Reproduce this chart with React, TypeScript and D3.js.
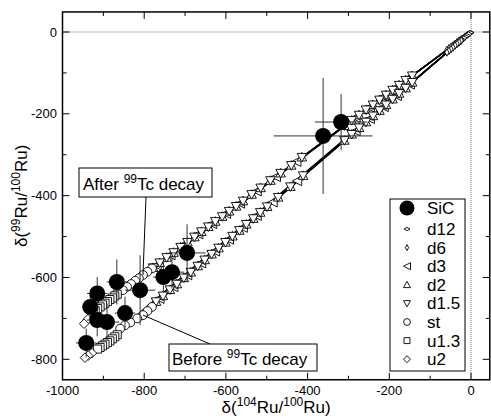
import React from "react";
import * as d3 from "d3";

// axis ticks
const xTicks = [-1000, -800, -600, -400, -200, 0];
const xMinor = [-900, -700, -500, -300, -100];
const yTicks = [-800, -600, -400, -200, 0];
const yMinor = [-700, -500, -300, -100];

// SiC grains
const sicX = [-362, -318, -695, -732, -753, -810, -867, -915, -932, -847, -891, -915, -942];
const sicY = [-254, -220, -540, -587, -599, -631, -611, -639, -672, -687, -709, -704, -760];
const sicXErr = [121, 64, 45, 30, 25, 37, 25, 25, 20, 25, 30, 25, 25];
const sicYErr = [142, 68, 70, 40, 35, 85, 55, 40, 30, 40, 45, 40, 35];

// models: after 99Tc decay (upper branch) / before (lower branch)
const d12After = [[-2, -1], [-6, -4], [-10, -7], [-14, -10], [-18, -13], [-22, -16], [-26, -19], [-30, -22], [-34, -25], [-38, -28]];
const d12Before = [[-2, -2], [-6, -5], [-10, -9], [-14, -12], [-18, -15], [-22, -19], [-26, -22], [-30, -26], [-34, -29], [-38, -33]];
const d6After = [[-24, -18], [-29, -21], [-34, -25], [-39, -29], [-44, -33], [-49, -36], [-54, -40], [-59, -44]];
const d6Before = [[-24, -21], [-29, -25], [-34, -29], [-39, -33], [-44, -38], [-49, -42], [-54, -46], [-59, -50]];
const d3After = [[-150, -111], [-182, -135], [-214, -158], [-248, -184], [-283, -209], [-428, -317], [-478, -354], [-525, -389], [-566, -419], [-600, -444], [-634, -469], [-668, -494], [-702, -519], [-736, -545], [-770, -570]];
const d3Before = [[-150, -128], [-182, -156], [-214, -183], [-248, -212], [-283, -242], [-426, -364], [-486, -416], [-525, -449], [-559, -478], [-593, -507], [-627, -536], [-661, -565], [-695, -594], [-729, -623], [-763, -652]];
// d2 and d1.5 markers sit on the same steps
const triAfter = [[-144, -107], [-160, -118], [-176, -130], [-192, -142], [-208, -154], [-224, -166], [-240, -178], [-257, -190], [-274, -203], [-292, -216], [-310, -229], [-414, -306], [-440, -326], [-466, -345], [-491, -363], [-515, -381], [-537, -397], [-558, -413], [-575, -426], [-592, -438], [-609, -451], [-626, -463], [-643, -476], [-660, -488], [-677, -501], [-694, -514], [-711, -526], [-728, -539], [-745, -551], [-762, -564], [-778, -576]];
const triBefore = [[-144, -123], [-160, -137], [-176, -150], [-192, -164], [-208, -178], [-224, -192], [-240, -205], [-257, -220], [-274, -234], [-292, -250], [-310, -265], [-411, -351], [-442, -378], [-472, -404], [-499, -427], [-516, -441], [-533, -456], [-550, -470], [-567, -485], [-584, -499], [-601, -514], [-618, -528], [-635, -543], [-652, -557], [-669, -572], [-686, -587], [-703, -601], [-720, -616], [-737, -630], [-754, -645], [-771, -659]];
const stAfter = [[-781, -578], [-792, -586], [-803, -594], [-813, -602], [-822, -608], [-832, -616], [-842, -623], [-852, -631]];
const stBefore = [[-781, -672], [-792, -682], [-803, -692], [-817, -700], [-834, -710], [-847, -717], [-859, -725]];
const u13After = [[-866, -641], [-872, -645], [-878, -650], [-884, -654], [-890, -659], [-896, -663], [-902, -667], [-908, -672], [-914, -676], [-920, -681]];
const u13Before = [[-866, -740], [-872, -745], [-878, -750], [-884, -755], [-890, -759], [-896, -763], [-902, -767], [-908, -771], [-914, -775]];
const u2After = [[-928, -692], [-938, -702], [-947, -713]];
const u2Before = [[-928, -785], [-937, -791], [-945, -796]];

const legendNames = ["SiC", "d12", "d6", "d3", "d2", "d1.5", "st", "u1.3", "u2"];

const models = [
  { name: "d12", shape: "hdiamond", after: d12After, before: d12Before },
  { name: "d6", shape: "vdiamond", after: d6After, before: d6Before },
  { name: "d3", shape: "left", after: d3After, before: d3Before },
  { name: "d2", shape: "up", after: triAfter, before: triBefore },
  { name: "d1.5", shape: "down", after: triAfter, before: triBefore },
  { name: "st", shape: "circle", after: stAfter, before: stBefore },
  { name: "u1.3", shape: "square", after: u13After, before: u13Before },
  { name: "u2", shape: "diamond", after: u2After, before: u2Before },
];

function markerPath(shape: string, s: number) {
  const h = s / 2;
  switch (shape) {
    case "hdiamond": return `M${-h},0L0,${-h * 0.55}L${h},0L0,${h * 0.55}Z`;
    case "vdiamond": return `M0,${-h}L${h * 0.55},0L0,${h}L${-h * 0.55},0Z`;
    case "left": return `M${-h},0L${h},${-h}L${h},${h}Z`;
    case "up": return `M0,${-h}L${h},${h * 0.8}L${-h},${h * 0.8}Z`;
    case "down": return `M0,${h}L${h},${-h * 0.8}L${-h},${-h * 0.8}Z`;
    case "square": return `M${-h * 0.85},${-h * 0.85}h${s * 0.85}v${s * 0.85}h${-s * 0.85}Z`;
    case "diamond": return `M0,${-h}L${h},0L0,${h}L${-h},0Z`;
    default: return d3.symbol(d3.symbolCircle, s * s * 0.75)() || "";
  }
}

function plotSize(shape: string) {
  if (shape === "hdiamond" || shape === "vdiamond") return 7.5;
  if (shape === "circle") return 9;
  return 9.5;
}

const W = 491;
const H = 416;
const x = d3.scaleLinear().domain([-1000, 0]).range([62.5, 471]);
const y = d3.scaleLinear().domain([-800, 0]).range([359.3, 32]);
const left = x(-1000), right = x(46), top = y(49), bottom = y(-850);

const font = "Arial, 'Liberation Sans', sans-serif";

export default function App() {
  const line = d3.line<number[]>().x((d) => x(d[0])).y((d) => y(d[1]));
  const legendShapes: Record<string, string> = {};
  models.forEach((m) => (legendShapes[m.name] = m.shape));

  return (
    <svg width={W} height={H} style={{ position: "absolute", left: 0, top: 0, background: "#fff" }} fontFamily={font}>
      {/* reference lines */}
      <line x1={left} x2={right} y1={y(0)} y2={y(0)} stroke="#777" strokeDasharray="1,1" />
      <line x1={x(0)} x2={x(0)} y1={top} y2={bottom} stroke="#777" strokeDasharray="1,1" />

      {/* model curves */}
      {models.map((m) => (
        <g key={m.name}>
          {[m.after, m.before].map((pts, i) => (
            <path key={i} d={line([[0, 0], ...pts]) || ""} fill="none" stroke="#000" strokeWidth={1.3} />
          ))}
        </g>
      ))}
      {models.map((m) => (
        <g key={m.name + "m"}>
          {[...m.after, ...m.before].map((p, i) => (
            <path key={i} d={markerPath(m.shape, plotSize(m.shape))}
              transform={`translate(${x(p[0])},${y(p[1])})`} fill="#fff" stroke="#000" strokeWidth={0.9} />
          ))}
        </g>
      ))}

      {/* SiC data with error bars */}
      {sicX.map((v, i) => (
        <g key={"e" + i} stroke="#333" strokeWidth={1}>
          <line x1={x(v - sicXErr[i])} x2={x(v + sicXErr[i])} y1={y(sicY[i])} y2={y(sicY[i])} />
          <line x1={x(v)} x2={x(v)} y1={y(sicY[i] - sicYErr[i])} y2={y(sicY[i] + sicYErr[i])} />
        </g>
      ))}
      {sicX.map((v, i) => (
        <circle key={"c" + i} cx={x(v)} cy={y(sicY[i])} r={8} fill="#000" />
      ))}

      {/* frame and ticks */}
      <rect x={left} y={top} width={right - left} height={bottom - top} fill="none" stroke="#000" strokeWidth={1.5} />
      {xTicks.concat(xMinor).map((t) => {
        const len = xTicks.includes(t) ? 7 : 4;
        return (
          <g key={"xt" + t} stroke="#000" strokeWidth={1}>
            <line x1={x(t)} x2={x(t)} y1={bottom} y2={bottom - len} />
            <line x1={x(t)} x2={x(t)} y1={top} y2={top + len} />
          </g>
        );
      })}
      {yTicks.concat(yMinor).map((t) => {
        const len = yTicks.includes(t) ? 7 : 4;
        return (
          <g key={"yt" + t} stroke="#000" strokeWidth={1}>
            <line x1={left} x2={left + len} y1={y(t)} y2={y(t)} />
            <line x1={right} x2={right - len} y1={y(t)} y2={y(t)} />
          </g>
        );
      })}
      {xTicks.map((t) => (
        <text key={"xl" + t} x={x(t)} y={395} textAnchor="middle" fontSize={13}>{t}</text>
      ))}
      {yTicks.map((t) => (
        <text key={"yl" + t} x={57} y={y(t) + 4.5} textAnchor="end" fontSize={13}>{t}</text>
      ))}

      {/* axis titles */}
      <text x={(left + right) / 2} y={413} textAnchor="middle" fontSize={17}>
        δ(<tspan fontSize={12} dy={-7}>104</tspan><tspan dy={7}>Ru/</tspan><tspan fontSize={12} dy={-7}>100</tspan><tspan dy={7}>Ru)</tspan>
      </text>
      <text transform={`translate(27,${(top + bottom) / 2}) rotate(-90)`} textAnchor="middle" fontSize={17}>
        δ(<tspan fontSize={12} dy={-7}>99</tspan><tspan dy={7}>Ru/</tspan><tspan fontSize={12} dy={-7}>100</tspan><tspan dy={7}>Ru)</tspan>
      </text>

      {/* annotations */}
      <line x1={146} y1={197} x2={x(-803)} y2={y(-594)} stroke="#000" strokeWidth={1} />
      <rect x={79} y={168} width={133} height={29} fill="#fff" stroke="#000" strokeWidth={1} />
      <text x={83} y={190} fontSize={17}>
        After <tspan fontSize={12} dy={-7}>99</tspan><tspan dy={7}>Tc decay</tspan>
      </text>
      <line x1={x(-803)} y1={y(-692)} x2={210} y2={344} stroke="#000" strokeWidth={1} />
      <rect x={169} y={344} width={148} height={27} fill="#fff" stroke="#000" strokeWidth={1} />
      <text x={172} y={365} fontSize={17}>
        Before <tspan fontSize={12} dy={-7}>99</tspan><tspan dy={7}>Tc decay</tspan>
      </text>

      {/* legend */}
      <rect x={390} y={199} width={75} height={172} fill="#fff" stroke="#000" strokeWidth={1} />
      {legendNames.map((n, i) => {
        const cy = i === 0 ? 208 : 229 + (i - 1) * 18.6;
        return (
          <g key={"lg" + n}>
            {i === 0 ? (
              <circle cx={407} cy={cy} r={7.5} fill="#000" />
            ) : (
              <path d={markerPath(legendShapes[n], n === "d12" || n === "d6" ? 6 : 7)} transform={`translate(407,${cy})`} fill="#fff" stroke="#000" strokeWidth={0.9} />
            )}
            <text x={427} y={cy + 6} fontSize={17}>{n}</text>
          </g>
        );
      })}
    </svg>
  );
}
